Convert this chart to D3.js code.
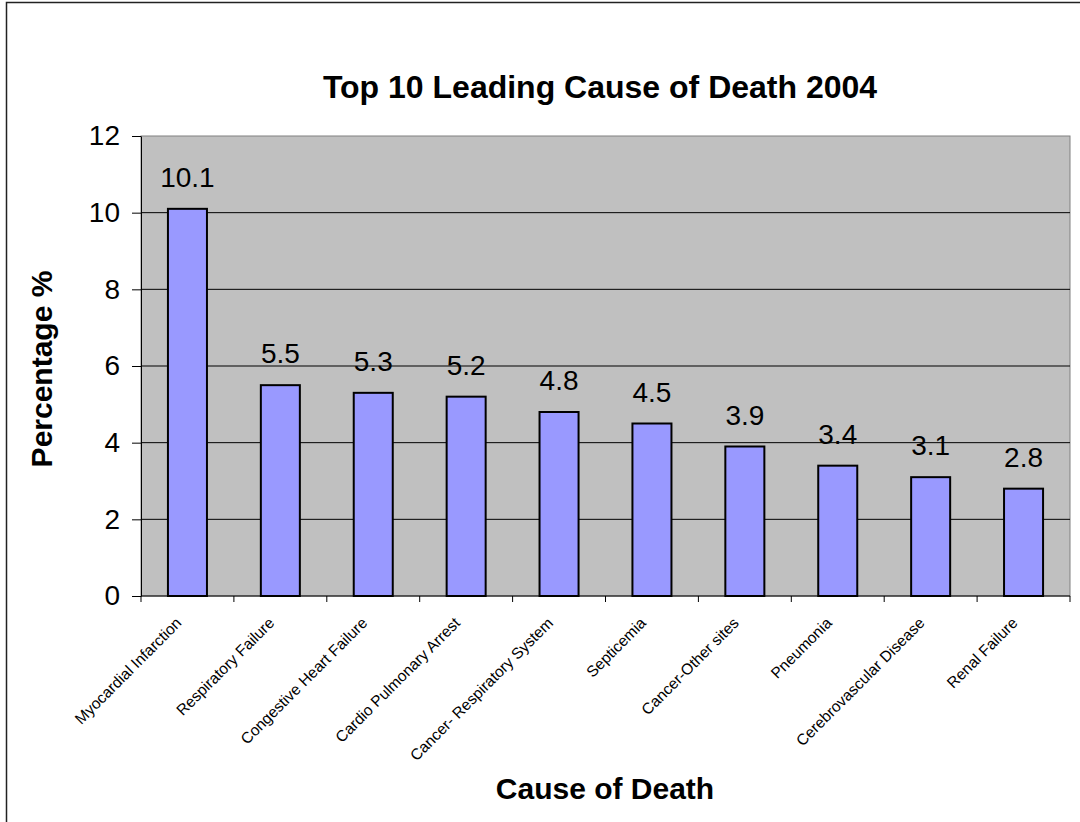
<!DOCTYPE html>
<html>
<head>
<meta charset="utf-8">
<script src="https://cdn.jsdelivr.net/npm/d3@7"></script>
<style>
  body { margin: 0; background: #fff; }
  text { font-family: Arial, "Liberation Sans", sans-serif; fill: #000; }
</style>
</head>
<body>
<div id="chart"></div>
<script>
var causes = ["Myocardial Infarction", "Respiratory Failure", "Congestive Heart Failure",
  "Cardio Pulmonary Arrest", "Cancer- Respiratory System", "Septicemia",
  "Cancer-Other sites", "Pneumonia", "Cerebrovascular Disease", "Renal Failure"];
var percents = [10.1, 5.5, 5.3, 5.2, 4.8, 4.5, 3.9, 3.4, 3.1, 2.8];
var yTicks = [0, 2, 4, 6, 8, 10, 12];

var svgWidth = 1080, svgHeight = 822;
var margin = { top: 136, right: 10, bottom: 226, left: 141 };
var width = 1070 - margin.left;
var height = 596 - margin.top;

var svg = d3.select("#chart").append("svg")
  .attr("width", svgWidth)
  .attr("height", svgHeight);

// outer frame (only left/top visible)
svg.append("rect")
  .attr("x", 6.5).attr("y", 2.5)
  .attr("width", 1200).attr("height", 1000)
  .attr("fill", "none").attr("stroke", "#222").attr("stroke-width", 1.5);

var chartGroup = svg.append("g")
  .attr("transform", `translate(${margin.left}, ${margin.top})`);

var x = d3.scaleBand().domain(causes).range([0, width]).paddingInner(0.58).paddingOuter(0.29);
var xb = d3.scaleBand().domain(causes).range([0, width]);
var y = d3.scaleLinear().domain([0, 12]).range([height, 0]);

chartGroup.append("rect")
  .attr("width", width).attr("height", height)
  .attr("fill", "#c0c0c0").attr("stroke", "#808080").attr("stroke-width", 1);

// gridlines
chartGroup.selectAll(".grid")
  .data(yTicks.filter(d => d > 0 && d < 12))
  .enter().append("line")
  .attr("x1", 0).attr("x2", width)
  .attr("y1", d => y(d)).attr("y2", d => y(d))
  .attr("stroke", "#000").attr("stroke-width", 1);

// bars
chartGroup.selectAll(".bar")
  .data(percents)
  .enter().append("rect")
  .attr("x", (d, i) => x(causes[i]))
  .attr("y", d => y(d))
  .attr("width", x.bandwidth())
  .attr("height", d => height - y(d))
  .attr("fill", "#9999ff").attr("stroke", "#000").attr("stroke-width", 2);

// value labels
chartGroup.selectAll(".val")
  .data(percents)
  .enter().append("text")
  .attr("x", (d, i) => x(causes[i]) + x.bandwidth() / 2)
  .attr("y", d => y(d) - 22)
  .attr("text-anchor", "middle")
  .attr("font-size", "28px")
  .text(d => d);

// y axis
var leftAxis = d3.axisLeft(y).tickValues(yTicks).tickSize(9).tickPadding(12).tickSizeOuter(0);
var yg = chartGroup.append("g").call(leftAxis);
yg.selectAll("text").attr("font-size", "28px").attr("font-family", "Arial, 'Liberation Sans', sans-serif");
yg.select(".domain").attr("stroke", "#000");

// x axis (ticks between categories)
chartGroup.append("line")
  .attr("x1", 0).attr("x2", width).attr("y1", height).attr("y2", height)
  .attr("stroke", "#000").attr("stroke-width", 1);
chartGroup.selectAll(".xtick")
  .data(causes.concat(["end"]))
  .enter().append("line")
  .attr("x1", (d, i) => i * xb.step()).attr("x2", (d, i) => i * xb.step())
  .attr("y1", height).attr("y2", height + 6)
  .attr("stroke", "#000");

chartGroup.selectAll(".xlab")
  .data(causes)
  .enter().append("text")
  .attr("transform", d => `translate(${xb(d) + xb.bandwidth() / 2 - 5}, ${height + 28}) rotate(-45)`)
  .attr("text-anchor", "end")
  .attr("font-size", "15.5px")
  .text(d => d);

// titles
svg.append("text")
  .attr("x", 600).attr("y", 98)
  .attr("text-anchor", "middle")
  .attr("font-size", "32px").attr("font-weight", "bold")
  .text("Top 10 Leading Cause of Death 2004");

svg.append("text")
  .attr("transform", "translate(52, 369) rotate(-90)")
  .attr("text-anchor", "middle")
  .attr("font-size", "30px").attr("font-weight", "bold")
  .text("Percentage %");

svg.append("text")
  .attr("x", 605).attr("y", 799)
  .attr("text-anchor", "middle")
  .attr("font-size", "30px").attr("font-weight", "bold")
  .text("Cause of Death");
</script>
</body>
</html>
